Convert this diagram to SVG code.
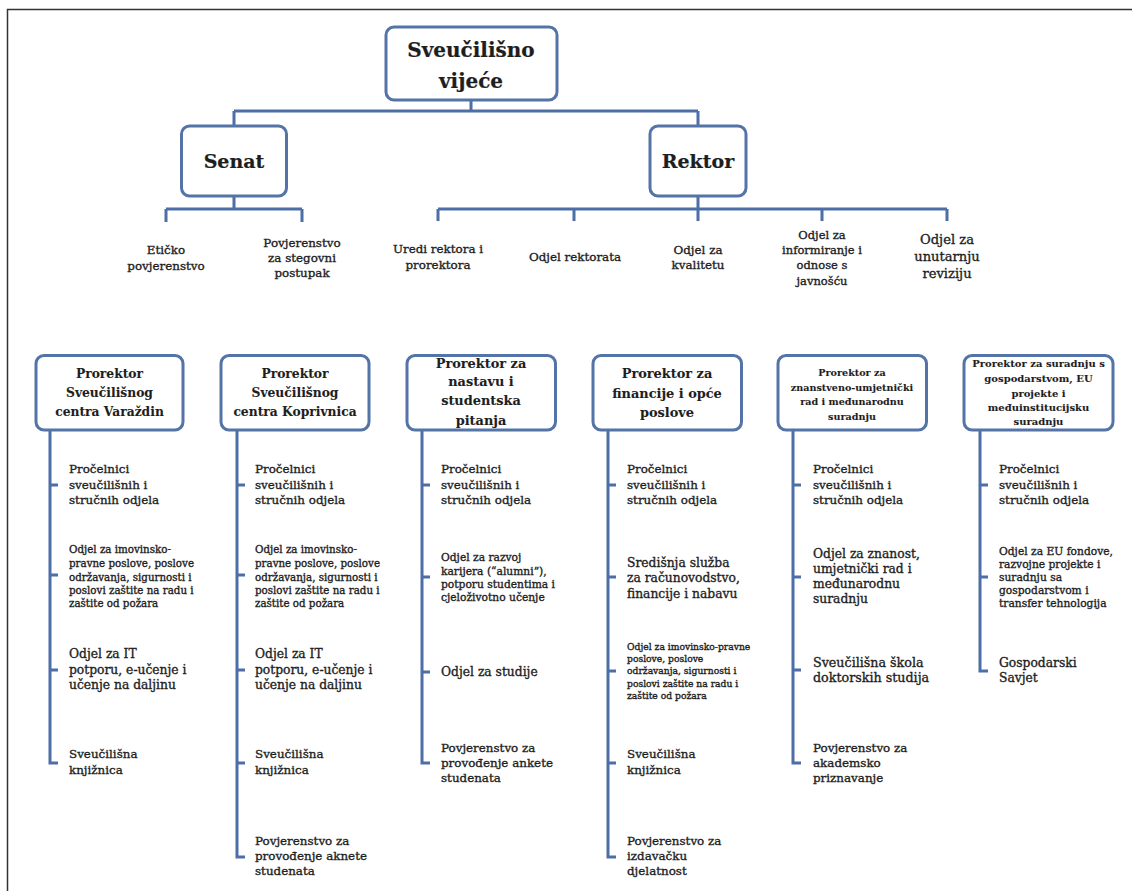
<svg xmlns="http://www.w3.org/2000/svg" width="1132" height="891" viewBox="0 0 1132 891" font-family="'DejaVu Serif', 'Liberation Serif', serif">
<style>
  .box{fill:#fff;stroke:#5474a8;stroke-width:3}
  .ln{fill:none;stroke:#4d6ea6;stroke-width:3}
  .frame{fill:none;stroke:#333;stroke-width:1.5}
  text{font-family:'DejaVu Serif','Liberation Serif',serif;fill:#1e1e1e;stroke:#1e1e1e;stroke-width:0.35}
  .h1{font-size:20px;font-weight:bold;text-anchor:middle;stroke-width:0.2}
  .h2{font-size:19px;font-weight:bold;text-anchor:middle;stroke-width:0.2}
  .pr{font-weight:bold;text-anchor:middle;stroke-width:0.1}
  .lab{text-anchor:middle}
</style>
<rect width="1132" height="891" fill="#fff"/>
<path class="frame" d="M7.5,891 V9.5 H1132"/>

<g id="connectors">
  <path class="ln" d="M471,100 V111 M234,111 H698 M234,111 V126 M698,111 V126"/>
  <path class="ln" d="M234,196 V209 M166,209 H302 M166,209 V222 M302,209 V222"/>
  <path class="ln" d="M698,196 V221 M438,209 H947 M438,209 V221 M574,209 V221 M822,209 V221 M947,209 V221"/>
  <path class="ln" d="M50,430 V763 H58 M50,485 H58 M50,575 H58 M50,670 H58"/>
  <path class="ln" d="M237,430 V857 H245 M237,485 H245 M237,575 H245 M237,670 H245 M237,763 H245"/>
  <path class="ln" d="M422,430 V763 H430 M422,485 H430 M422,577 H430 M422,672 H430"/>
  <path class="ln" d="M608,430 V857 H616 M608,485 H616 M608,577 H616 M608,671 H616 M608,763 H616"/>
  <path class="ln" d="M793,430 V763 H801 M793,485 H801 M793,577 H801 M793,670 H801"/>
  <path class="ln" d="M980,430 V671 H988 M980,485 H988 M980,577 H988"/>
</g>

<g id="sveucilisno-vijece">
  <rect class="box" x="386" y="27" width="171" height="73" rx="8"/>
  <text class="h1" x="471" y="57">Sveučilišno</text>
  <text class="h1" x="471" y="88">vijeće</text>
</g>
<g id="senat">
  <rect class="box" x="181.5" y="126" width="105" height="70" rx="8"/>
  <text class="h2" x="234" y="168">Senat</text>
</g>
<g id="rektor">
  <rect class="box" x="650" y="126" width="96" height="70" rx="8"/>
  <text class="h2" x="698" y="168">Rektor</text>
</g>

<g id="eticko-povjerenstvo" font-size="11.9">
  <text class="lab" x="166" y="254">Etičko</text>
  <text class="lab" x="166" y="270">povjerenstvo</text>
</g>
<g id="povjerenstvo-stegovni" font-size="11.9">
  <text class="lab" x="302" y="247">Povjerenstvo</text>
  <text class="lab" x="302" y="262">za stegovni</text>
  <text class="lab" x="302" y="277">postupak</text>
</g>
<g id="uredi-rektora" font-size="11.9">
  <text class="lab" x="438" y="253">Uredi rektora i</text>
  <text class="lab" x="438" y="269">prorektora</text>
</g>
<g id="odjel-rektorata" font-size="11.9">
  <text class="lab" x="575" y="261">Odjel rektorata</text>
</g>
<g id="odjel-kvalitetu" font-size="11.9">
  <text class="lab" x="698" y="254">Odjel za</text>
  <text class="lab" x="698" y="269">kvalitetu</text>
</g>
<g id="odjel-informiranje" font-size="11.5">
  <text class="lab" x="822" y="239">Odjel za</text>
  <text class="lab" x="822" y="254">informiranje i</text>
  <text class="lab" x="822" y="269">odnose s</text>
  <text class="lab" x="822" y="285">javnošću</text>
</g>
<g id="odjel-revizija" font-size="13.1">
  <text class="lab" x="947" y="244">Odjel za</text>
  <text class="lab" x="947" y="261">unutarnju</text>
  <text class="lab" x="947" y="278">reviziju</text>
</g>

<g id="prorektor-varazdin" font-size="12.3">
  <rect class="box" x="36" y="355.5" width="147" height="74.5" rx="8"/>
  <text class="pr" x="109.5" y="378">Prorektor</text>
  <text class="pr" x="109.5" y="397">Sveučilišnog</text>
  <text class="pr" x="109.5" y="416">centra Varaždin</text>
</g>
<g id="prorektor-koprivnica" font-size="12.3">
  <rect class="box" x="221" y="355.5" width="148" height="74.5" rx="8"/>
  <text class="pr" x="295" y="378">Prorektor</text>
  <text class="pr" x="295" y="397">Sveučilišnog</text>
  <text class="pr" x="295" y="416">centra Koprivnica</text>
</g>
<g id="prorektor-nastava" font-size="12.9">
  <rect class="box" x="407" y="355.5" width="148.5" height="74.5" rx="8"/>
  <text class="pr" x="481" y="368">Prorektor za</text>
  <text class="pr" x="481" y="386">nastavu i</text>
  <text class="pr" x="481" y="405">studentska</text>
  <text class="pr" x="481" y="425">pitanja</text>
</g>
<g id="prorektor-financije" font-size="12.9">
  <rect class="box" x="593" y="355.5" width="148.5" height="74.5" rx="8"/>
  <text class="pr" x="667" y="378">Prorektor za</text>
  <text class="pr" x="667" y="398">financije i opće</text>
  <text class="pr" x="667" y="417">poslove</text>
</g>
<g id="prorektor-znanost" font-size="9.6">
  <rect class="box" x="778" y="355.5" width="148.5" height="74.5" rx="8"/>
  <text class="pr" x="852" y="376">Prorektor za</text>
  <text class="pr" x="852" y="390.5">znanstveno-umjetnički</text>
  <text class="pr" x="852" y="405">rad i međunarodnu</text>
  <text class="pr" x="852" y="420">suradnju</text>
</g>
<g id="prorektor-suradnja" font-size="10">
  <rect class="box" x="964" y="355.5" width="149" height="74.5" rx="8"/>
  <text class="pr" x="1038.5" y="367">Prorektor za suradnju s</text>
  <text class="pr" x="1038.5" y="382">gospodarstvom, EU</text>
  <text class="pr" x="1038.5" y="396.5">projekte i</text>
  <text class="pr" x="1038.5" y="411">međuinstitucijsku</text>
  <text class="pr" x="1038.5" y="425">suradnju</text>
</g>

<!-- column 1 -->
<g id="c1-procelnici" font-size="11.9">
  <text x="69" y="473">Pročelnici</text><text x="69" y="488.5">sveučilišnih i</text><text x="69" y="504">stručnih odjela</text>
</g>
<g id="c1-imovinsko" font-size="10.3">
  <text x="69" y="553">Odjel za imovinsko-</text><text x="69" y="567">pravne poslove, poslove</text><text x="69" y="580.5">održavanja, sigurnosti i</text><text x="69" y="594">poslovi zaštite na radu i</text><text x="69" y="607">zaštite od požara</text>
</g>
<g id="c1-it" font-size="12.3">
  <text x="69" y="658">Odjel za IT</text><text x="69" y="673.5">potporu, e-učenje i</text><text x="69" y="689">učenje na daljinu</text>
</g>
<g id="c1-knjiznica" font-size="11.9">
  <text x="69" y="758">Sveučilišna</text><text x="69" y="773.5">knjižnica</text>
</g>

<!-- column 2 -->
<g id="c2-procelnici" font-size="11.9">
  <text x="255" y="473">Pročelnici</text><text x="255" y="488.5">sveučilišnih i</text><text x="255" y="504">stručnih odjela</text>
</g>
<g id="c2-imovinsko" font-size="10.3">
  <text x="255" y="553">Odjel za imovinsko-</text><text x="255" y="567">pravne poslove, poslove</text><text x="255" y="580.5">održavanja, sigurnosti i</text><text x="255" y="594">poslovi zaštite na radu i</text><text x="255" y="607">zaštite od požara</text>
</g>
<g id="c2-it" font-size="12.3">
  <text x="255" y="658">Odjel za IT</text><text x="255" y="673.5">potporu, e-učenje i</text><text x="255" y="689">učenje na daljinu</text>
</g>
<g id="c2-knjiznica" font-size="11.9">
  <text x="255" y="758">Sveučilišna</text><text x="255" y="773.5">knjižnica</text>
</g>
<g id="c2-anketa" font-size="11.9">
  <text x="255" y="845">Povjerenstvo za</text><text x="255" y="860">provođenje aknete</text><text x="255" y="875">studenata</text>
</g>

<!-- column 3 -->
<g id="c3-procelnici" font-size="11.9">
  <text x="441" y="473">Pročelnici</text><text x="441" y="488.5">sveučilišnih i</text><text x="441" y="504">stručnih odjela</text>
</g>
<g id="c3-karijera" font-size="10.7">
  <text x="441" y="561">Odjel za razvoj</text><text x="441" y="574.5">karijera (“alumni”),</text><text x="441" y="587.5">potporu studentima i</text><text x="441" y="600.5">cjeloživotno učenje</text>
</g>
<g id="c3-studije" font-size="12.3">
  <text x="441" y="676">Odjel za studije</text>
</g>
<g id="c3-anketa" font-size="11.9">
  <text x="441" y="752">Povjerenstvo za</text><text x="441" y="767">provođenje ankete</text><text x="441" y="782">studenata</text>
</g>

<!-- column 4 -->
<g id="c4-procelnici" font-size="11.9">
  <text x="627" y="473">Pročelnici</text><text x="627" y="488.5">sveučilišnih i</text><text x="627" y="504">stručnih odjela</text>
</g>
<g id="c4-sluzba" font-size="12.3">
  <text x="627" y="567">Središnja služba</text><text x="627" y="582">za računovodstvo,</text><text x="627" y="597.5">financije i nabavu</text>
</g>
<g id="c4-imovinsko" font-size="9.2">
  <text x="627" y="650">Odjel za imovinsko-pravne</text><text x="627" y="662">poslove, poslove</text><text x="627" y="674">održavanja, sigurnosti i</text><text x="627" y="686.5">poslovi zaštite na radu i</text><text x="627" y="698.5">zaštite od požara</text>
</g>
<g id="c4-knjiznica" font-size="11.9">
  <text x="627" y="758">Sveučilišna</text><text x="627" y="773.5">knjižnica</text>
</g>
<g id="c4-izdavacka" font-size="11.9">
  <text x="627" y="845">Povjerenstvo za</text><text x="627" y="860">izdavačku</text><text x="627" y="875">djelatnost</text>
</g>

<!-- column 5 -->
<g id="c5-procelnici" font-size="11.9">
  <text x="813" y="473">Pročelnici</text><text x="813" y="488.5">sveučilišnih i</text><text x="813" y="504">stručnih odjela</text>
</g>
<g id="c5-znanost" font-size="12.3">
  <text x="813" y="558">Odjel za znanost,</text><text x="813" y="573">umjetnički rad i</text><text x="813" y="588">međunarodnu</text><text x="813" y="603">suradnju</text>
</g>
<g id="c5-skola" font-size="12.7">
  <text x="813" y="667">Sveučilišna škola</text><text x="813" y="682">doktorskih studija</text>
</g>
<g id="c5-priznavanje" font-size="11.9">
  <text x="813" y="752">Povjerenstvo za</text><text x="813" y="767">akademsko</text><text x="813" y="782">priznavanje</text>
</g>

<!-- column 6 -->
<g id="c6-procelnici" font-size="11.9">
  <text x="999" y="473">Pročelnici</text><text x="999" y="488.5">sveučilišnih i</text><text x="999" y="504">stručnih odjela</text>
</g>
<g id="c6-eu" font-size="10.7">
  <text x="999" y="555">Odjel za EU fondove,</text><text x="999" y="568">razvojne projekte i</text><text x="999" y="581">suradnju sa</text><text x="999" y="594">gospodarstvom i</text><text x="999" y="607">transfer tehnologija</text>
</g>
<g id="c6-savjet" font-size="12.3">
  <text x="999" y="667">Gospodarski</text><text x="999" y="682">Savjet</text>
</g>
</svg>
